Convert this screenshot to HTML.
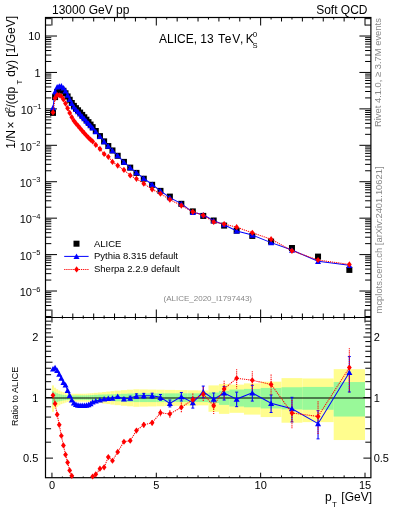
<!DOCTYPE html>
<html><head><meta charset="utf-8"><style>html,body{margin:0;padding:0;background:#fff;}svg{display:block;will-change:transform;}</style></head>
<body><svg width="393" height="512" viewBox="0 0 393 512">
<defs><clipPath id="cm"><rect x="45.5" y="17.5" width="325.4" height="300.0"/></clipPath><clipPath id="cr"><rect x="45.5" y="317.5" width="325.4" height="160.2"/></clipPath></defs>
<rect width="393" height="512" fill="#fff"/>
<g clip-path="url(#cr)">
<rect x="51.95" y="385.40" width="2.09" height="26.39" fill="#fffd8e"/>
<rect x="54.04" y="387.71" width="2.09" height="21.05" fill="#fffd8e"/>
<rect x="56.12" y="389.28" width="2.09" height="17.52" fill="#fffd8e"/>
<rect x="58.21" y="390.48" width="2.09" height="14.88" fill="#fffd8e"/>
<rect x="60.30" y="391.53" width="2.09" height="12.59" fill="#fffd8e"/>
<rect x="62.39" y="392.18" width="2.09" height="11.19" fill="#fffd8e"/>
<rect x="64.47" y="392.82" width="2.09" height="9.83" fill="#fffd8e"/>
<rect x="66.56" y="393.44" width="2.09" height="8.52" fill="#fffd8e"/>
<rect x="68.65" y="393.76" width="2.09" height="7.86" fill="#fffd8e"/>
<rect x="70.73" y="393.76" width="2.09" height="7.86" fill="#fffd8e"/>
<rect x="72.82" y="393.76" width="2.09" height="7.86" fill="#fffd8e"/>
<rect x="74.91" y="393.76" width="2.09" height="7.86" fill="#fffd8e"/>
<rect x="76.99" y="393.76" width="2.09" height="7.86" fill="#fffd8e"/>
<rect x="79.08" y="393.76" width="2.09" height="7.86" fill="#fffd8e"/>
<rect x="81.17" y="393.76" width="2.09" height="7.86" fill="#fffd8e"/>
<rect x="83.25" y="393.76" width="2.09" height="7.86" fill="#fffd8e"/>
<rect x="85.34" y="393.67" width="2.09" height="8.05" fill="#fffd8e"/>
<rect x="87.43" y="393.49" width="2.09" height="8.42" fill="#fffd8e"/>
<rect x="89.52" y="393.31" width="2.09" height="8.80" fill="#fffd8e"/>
<rect x="91.60" y="393.13" width="2.09" height="9.17" fill="#fffd8e"/>
<rect x="93.69" y="392.87" width="4.17" height="9.74" fill="#fffd8e"/>
<rect x="97.86" y="392.51" width="4.17" height="10.49" fill="#fffd8e"/>
<rect x="102.04" y="392.04" width="4.17" height="11.49" fill="#fffd8e"/>
<rect x="106.21" y="391.58" width="4.17" height="12.49" fill="#fffd8e"/>
<rect x="110.39" y="391.11" width="4.17" height="13.49" fill="#fffd8e"/>
<rect x="114.56" y="390.64" width="6.26" height="14.52" fill="#fffd8e"/>
<rect x="120.82" y="390.16" width="6.26" height="15.58" fill="#fffd8e"/>
<rect x="127.08" y="389.68" width="6.26" height="16.64" fill="#fffd8e"/>
<rect x="133.34" y="389.30" width="6.26" height="17.48" fill="#fffd8e"/>
<rect x="139.60" y="389.43" width="8.35" height="17.19" fill="#fffd8e"/>
<rect x="147.95" y="389.57" width="8.35" height="16.87" fill="#fffd8e"/>
<rect x="156.30" y="389.72" width="8.35" height="16.54" fill="#fffd8e"/>
<rect x="164.65" y="389.89" width="10.44" height="16.18" fill="#fffd8e"/>
<rect x="175.08" y="390.09" width="12.52" height="15.73" fill="#fffd8e"/>
<rect x="187.61" y="390.29" width="10.44" height="15.28" fill="#fffd8e"/>
<rect x="198.04" y="390.48" width="10.44" height="14.88" fill="#fffd8e"/>
<rect x="208.48" y="385.40" width="10.44" height="26.39" fill="#fffd8e"/>
<rect x="218.91" y="383.89" width="10.44" height="29.97" fill="#fffd8e"/>
<rect x="229.35" y="384.64" width="14.61" height="28.18" fill="#fffd8e"/>
<rect x="243.95" y="383.37" width="16.70" height="31.23" fill="#fffd8e"/>
<rect x="260.65" y="381.68" width="20.87" height="35.39" fill="#fffd8e"/>
<rect x="281.52" y="378.12" width="20.87" height="44.59" fill="#fffd8e"/>
<rect x="302.39" y="378.47" width="31.31" height="43.66" fill="#fffd8e"/>
<rect x="333.69" y="369.17" width="31.31" height="70.87" fill="#fffd8e"/>
<rect x="51.95" y="391.29" width="2.09" height="13.12" fill="#99f999"/>
<rect x="54.04" y="392.51" width="2.09" height="10.49" fill="#99f999"/>
<rect x="56.12" y="393.34" width="2.09" height="8.74" fill="#99f999"/>
<rect x="58.21" y="394.01" width="2.09" height="7.34" fill="#99f999"/>
<rect x="60.30" y="394.51" width="2.09" height="6.29" fill="#99f999"/>
<rect x="62.39" y="394.85" width="2.09" height="5.59" fill="#99f999"/>
<rect x="64.47" y="395.13" width="2.09" height="5.02" fill="#99f999"/>
<rect x="66.56" y="395.34" width="2.09" height="4.58" fill="#99f999"/>
<rect x="68.65" y="395.44" width="2.09" height="4.37" fill="#99f999"/>
<rect x="70.73" y="395.44" width="2.09" height="4.37" fill="#99f999"/>
<rect x="72.82" y="395.44" width="2.09" height="4.37" fill="#99f999"/>
<rect x="74.91" y="395.44" width="2.09" height="4.37" fill="#99f999"/>
<rect x="76.99" y="395.44" width="2.09" height="4.37" fill="#99f999"/>
<rect x="79.08" y="395.44" width="2.09" height="4.37" fill="#99f999"/>
<rect x="81.17" y="395.44" width="2.09" height="4.37" fill="#99f999"/>
<rect x="83.25" y="395.44" width="2.09" height="4.37" fill="#99f999"/>
<rect x="85.34" y="395.38" width="2.09" height="4.49" fill="#99f999"/>
<rect x="87.43" y="395.26" width="2.09" height="4.74" fill="#99f999"/>
<rect x="89.52" y="395.14" width="2.09" height="4.99" fill="#99f999"/>
<rect x="91.60" y="395.02" width="2.09" height="5.24" fill="#99f999"/>
<rect x="93.69" y="394.84" width="4.17" height="5.61" fill="#99f999"/>
<rect x="97.86" y="394.60" width="4.17" height="6.11" fill="#99f999"/>
<rect x="102.04" y="394.48" width="4.17" height="6.36" fill="#99f999"/>
<rect x="106.21" y="394.36" width="4.17" height="6.61" fill="#99f999"/>
<rect x="110.39" y="394.24" width="4.17" height="6.86" fill="#99f999"/>
<rect x="114.56" y="394.05" width="6.26" height="7.25" fill="#99f999"/>
<rect x="120.82" y="393.80" width="6.26" height="7.77" fill="#99f999"/>
<rect x="127.08" y="393.55" width="6.26" height="8.30" fill="#99f999"/>
<rect x="133.34" y="393.34" width="6.26" height="8.74" fill="#99f999"/>
<rect x="139.60" y="393.34" width="8.35" height="8.74" fill="#99f999"/>
<rect x="147.95" y="393.34" width="8.35" height="8.74" fill="#99f999"/>
<rect x="156.30" y="393.34" width="8.35" height="8.74" fill="#99f999"/>
<rect x="164.65" y="393.34" width="10.44" height="8.74" fill="#99f999"/>
<rect x="175.08" y="393.34" width="12.52" height="8.74" fill="#99f999"/>
<rect x="187.61" y="393.34" width="10.44" height="8.74" fill="#99f999"/>
<rect x="198.04" y="393.34" width="10.44" height="8.74" fill="#99f999"/>
<rect x="208.48" y="392.51" width="10.44" height="10.49" fill="#99f999"/>
<rect x="218.91" y="390.88" width="10.44" height="14.00" fill="#99f999"/>
<rect x="229.35" y="389.52" width="14.61" height="16.99" fill="#99f999"/>
<rect x="243.95" y="388.88" width="16.70" height="18.40" fill="#99f999"/>
<rect x="260.65" y="387.94" width="20.87" height="20.52" fill="#99f999"/>
<rect x="281.52" y="387.24" width="20.87" height="22.12" fill="#99f999"/>
<rect x="302.39" y="386.93" width="31.31" height="22.83" fill="#99f999"/>
<rect x="333.69" y="382.05" width="31.31" height="34.49" fill="#99f999"/>
</g>
<rect x="45.5" y="17.5" width="325.40" height="460.20" fill="none" stroke="#000" stroke-width="1.2"/>
<line x1="45.5" y1="317.5" x2="370.9" y2="317.5" stroke="#000" stroke-width="1.2"/>
<path fill="none" stroke="#000" stroke-width="1" d="M51.95,17.5v8M51.95,317.5v-8M51.95,317.5v5M51.95,477.7v-5M62.39,17.5v2M62.39,317.5v-2M62.39,317.5v1.2M62.39,477.7v-1.2M72.82,17.5v4M72.82,317.5v-4M72.82,317.5v2.3M72.82,477.7v-2.3M83.25,17.5v2M83.25,317.5v-2M83.25,317.5v1.2M83.25,477.7v-1.2M93.69,17.5v4M93.69,317.5v-4M93.69,317.5v2.3M93.69,477.7v-2.3M104.12,17.5v2M104.12,317.5v-2M104.12,317.5v1.2M104.12,477.7v-1.2M114.56,17.5v4M114.56,317.5v-4M114.56,317.5v2.3M114.56,477.7v-2.3M125.00,17.5v2M125.00,317.5v-2M125.00,317.5v1.2M125.00,477.7v-1.2M135.43,17.5v4M135.43,317.5v-4M135.43,317.5v2.3M135.43,477.7v-2.3M145.87,17.5v2M145.87,317.5v-2M145.87,317.5v1.2M145.87,477.7v-1.2M156.30,17.5v8M156.30,317.5v-8M156.30,317.5v5M156.30,477.7v-5M166.74,17.5v2M166.74,317.5v-2M166.74,317.5v1.2M166.74,477.7v-1.2M177.17,17.5v4M177.17,317.5v-4M177.17,317.5v2.3M177.17,477.7v-2.3M187.61,17.5v2M187.61,317.5v-2M187.61,317.5v1.2M187.61,477.7v-1.2M198.04,17.5v4M198.04,317.5v-4M198.04,317.5v2.3M198.04,477.7v-2.3M208.48,17.5v2M208.48,317.5v-2M208.48,317.5v1.2M208.48,477.7v-1.2M218.91,17.5v4M218.91,317.5v-4M218.91,317.5v2.3M218.91,477.7v-2.3M229.35,17.5v2M229.35,317.5v-2M229.35,317.5v1.2M229.35,477.7v-1.2M239.78,17.5v4M239.78,317.5v-4M239.78,317.5v2.3M239.78,477.7v-2.3M250.22,17.5v2M250.22,317.5v-2M250.22,317.5v1.2M250.22,477.7v-1.2M260.65,17.5v8M260.65,317.5v-8M260.65,317.5v5M260.65,477.7v-5M271.09,17.5v2M271.09,317.5v-2M271.09,317.5v1.2M271.09,477.7v-1.2M281.52,17.5v4M281.52,317.5v-4M281.52,317.5v2.3M281.52,477.7v-2.3M291.96,17.5v2M291.96,317.5v-2M291.96,317.5v1.2M291.96,477.7v-1.2M302.39,17.5v4M302.39,317.5v-4M302.39,317.5v2.3M302.39,477.7v-2.3M312.82,17.5v2M312.82,317.5v-2M312.82,317.5v1.2M312.82,477.7v-1.2M323.26,17.5v4M323.26,317.5v-4M323.26,317.5v2.3M323.26,477.7v-2.3M333.69,17.5v2M333.69,317.5v-2M333.69,317.5v1.2M333.69,477.7v-1.2M344.13,17.5v4M344.13,317.5v-4M344.13,317.5v2.3M344.13,477.7v-2.3M354.56,17.5v2M354.56,317.5v-2M354.56,317.5v1.2M354.56,477.7v-1.2M365.00,17.5v8M365.00,317.5v-8M365.00,317.5v5M365.00,477.7v-5M45.5,316.49h5.8M370.9,316.49h-5.8M45.5,310.08h5.8M370.9,310.08h-5.8M45.5,305.53h5.8M370.9,305.53h-5.8M45.5,302.00h5.8M370.9,302.00h-5.8M45.5,299.11h5.8M370.9,299.11h-5.8M45.5,296.67h5.8M370.9,296.67h-5.8M45.5,294.56h5.8M370.9,294.56h-5.8M45.5,292.70h5.8M370.9,292.70h-5.8M45.5,291.03h11.5M370.9,291.03h-11.5M45.5,280.06h5.8M370.9,280.06h-5.8M45.5,273.65h5.8M370.9,273.65h-5.8M45.5,269.10h5.8M370.9,269.10h-5.8M45.5,265.57h5.8M370.9,265.57h-5.8M45.5,262.68h5.8M370.9,262.68h-5.8M45.5,260.24h5.8M370.9,260.24h-5.8M45.5,258.13h5.8M370.9,258.13h-5.8M45.5,256.27h5.8M370.9,256.27h-5.8M45.5,254.60h11.5M370.9,254.60h-11.5M45.5,243.63h5.8M370.9,243.63h-5.8M45.5,237.22h5.8M370.9,237.22h-5.8M45.5,232.67h5.8M370.9,232.67h-5.8M45.5,229.14h5.8M370.9,229.14h-5.8M45.5,226.25h5.8M370.9,226.25h-5.8M45.5,223.81h5.8M370.9,223.81h-5.8M45.5,221.70h5.8M370.9,221.70h-5.8M45.5,219.84h5.8M370.9,219.84h-5.8M45.5,218.17h11.5M370.9,218.17h-11.5M45.5,207.20h5.8M370.9,207.20h-5.8M45.5,200.79h5.8M370.9,200.79h-5.8M45.5,196.24h5.8M370.9,196.24h-5.8M45.5,192.71h5.8M370.9,192.71h-5.8M45.5,189.82h5.8M370.9,189.82h-5.8M45.5,187.38h5.8M370.9,187.38h-5.8M45.5,185.27h5.8M370.9,185.27h-5.8M45.5,183.41h5.8M370.9,183.41h-5.8M45.5,181.74h11.5M370.9,181.74h-11.5M45.5,170.77h5.8M370.9,170.77h-5.8M45.5,164.36h5.8M370.9,164.36h-5.8M45.5,159.81h5.8M370.9,159.81h-5.8M45.5,156.28h5.8M370.9,156.28h-5.8M45.5,153.39h5.8M370.9,153.39h-5.8M45.5,150.95h5.8M370.9,150.95h-5.8M45.5,148.84h5.8M370.9,148.84h-5.8M45.5,146.98h5.8M370.9,146.98h-5.8M45.5,145.31h11.5M370.9,145.31h-11.5M45.5,134.34h5.8M370.9,134.34h-5.8M45.5,127.93h5.8M370.9,127.93h-5.8M45.5,123.38h5.8M370.9,123.38h-5.8M45.5,119.85h5.8M370.9,119.85h-5.8M45.5,116.96h5.8M370.9,116.96h-5.8M45.5,114.52h5.8M370.9,114.52h-5.8M45.5,112.41h5.8M370.9,112.41h-5.8M45.5,110.55h5.8M370.9,110.55h-5.8M45.5,108.88h11.5M370.9,108.88h-11.5M45.5,97.91h5.8M370.9,97.91h-5.8M45.5,91.50h5.8M370.9,91.50h-5.8M45.5,86.95h5.8M370.9,86.95h-5.8M45.5,83.42h5.8M370.9,83.42h-5.8M45.5,80.53h5.8M370.9,80.53h-5.8M45.5,78.09h5.8M370.9,78.09h-5.8M45.5,75.98h5.8M370.9,75.98h-5.8M45.5,74.12h5.8M370.9,74.12h-5.8M45.5,72.45h11.5M370.9,72.45h-11.5M45.5,61.48h5.8M370.9,61.48h-5.8M45.5,55.07h5.8M370.9,55.07h-5.8M45.5,50.52h5.8M370.9,50.52h-5.8M45.5,46.99h5.8M370.9,46.99h-5.8M45.5,44.10h5.8M370.9,44.10h-5.8M45.5,41.66h5.8M370.9,41.66h-5.8M45.5,39.55h5.8M370.9,39.55h-5.8M45.5,37.69h5.8M370.9,37.69h-5.8M45.5,36.02h11.5M370.9,36.02h-11.5M45.5,25.05h5.8M370.9,25.05h-5.8M45.5,18.64h5.8M370.9,18.64h-5.8M45.5,458.11h7.5M370.9,458.11h-7.5M45.5,442.19h5.6M370.9,442.19h-5.6M45.5,428.74h5.6M370.9,428.74h-5.6M45.5,417.08h5.6M370.9,417.08h-5.6M45.5,406.80h5.6M370.9,406.80h-5.6M45.5,397.60h7.5M370.9,397.60h-7.5M45.5,389.28h5.6M370.9,389.28h-5.6M45.5,381.68h5.6M370.9,381.68h-5.6M45.5,374.70h5.6M370.9,374.70h-5.6M45.5,368.23h5.6M370.9,368.23h-5.6M45.5,362.21h7.0M370.9,362.21h-7.0M45.5,356.57h5.6M370.9,356.57h-5.6M45.5,351.28h5.6M370.9,351.28h-5.6M45.5,346.29h5.6M370.9,346.29h-5.6M45.5,341.57h5.6M370.9,341.57h-5.6M45.5,337.09h7.5M370.9,337.09h-7.5M45.5,332.83h5.6M370.9,332.83h-5.6M45.5,328.77h5.6M370.9,328.77h-5.6M45.5,324.89h5.6M370.9,324.89h-5.6M45.5,321.18h5.6M370.9,321.18h-5.6"/>
<line x1="45.5" y1="398" x2="370.9" y2="398" stroke="#000" stroke-width="1.1"/>
<g clip-path="url(#cr)">
<polyline fill="none" stroke="#0000ff" stroke-width="1.05" points="52.99,368.98 55.08,367.55 57.17,370.44 59.25,374.03 61.34,378.12 63.43,382.42 65.52,385.02 67.60,390.48 69.69,395.44 71.78,399.81 73.86,403.00 75.95,404.41 78.04,405.16 80.12,405.35 82.21,405.35 84.30,405.35 86.39,405.16 88.47,404.69 90.56,403.75 92.65,401.99 95.78,400.98 99.95,399.99 104.12,399.01 108.30,398.48 112.47,398.04 117.69,396.47 123.95,399.01 130.21,398.04 136.47,396.04 143.78,395.70 152.13,395.70 160.47,397.34 169.87,403.37 181.34,396.65 192.82,402.72 203.26,391.78 213.69,399.10 224.13,393.01 236.65,399.10 252.30,392.84 271.09,403.28 291.96,408.76 318.04,423.65 349.35,372.51"/>
<polyline fill="none" stroke="#ff0000" stroke-width="1.05" stroke-dasharray="1.2,0.9" points="52.99,395.27 55.08,403.65 57.17,414.60 59.25,424.83 61.34,435.74 63.43,445.45 65.52,454.68 67.60,462.40 69.69,470.46 71.78,475.86 73.86,479.13 75.95,481.61 78.04,483.45 80.12,484.86 82.21,485.58 84.30,485.58 86.39,484.86 88.47,483.45 90.56,480.92 92.65,476.50 95.78,474.37 99.95,468.67 104.12,467.30 108.30,457.07 112.47,460.77 117.69,451.88 123.95,441.76 130.21,440.75 136.47,430.50 143.78,424.83 152.13,422.83 160.47,412.82 169.87,413.97 181.34,407.28 192.82,399.72 203.26,394.18 213.69,405.83 224.13,388.96 236.65,378.26 252.30,380.24 271.09,384.42 291.96,413.03 318.04,416.43 349.35,367.61"/>
<line x1="123.95" y1="397.46" x2="123.95" y2="400.58" stroke="#0000ff" stroke-width="1.1"/><line x1="122.45" y1="397.46" x2="125.45" y2="397.46" stroke="#0000ff" stroke-width="1"/><line x1="122.45" y1="400.58" x2="125.45" y2="400.58" stroke="#0000ff" stroke-width="1"/>
<line x1="130.21" y1="396.16" x2="130.21" y2="399.96" stroke="#0000ff" stroke-width="1.1"/><line x1="128.71" y1="396.16" x2="131.71" y2="396.16" stroke="#0000ff" stroke-width="1"/><line x1="128.71" y1="399.96" x2="131.71" y2="399.96" stroke="#0000ff" stroke-width="1"/>
<line x1="136.47" y1="393.87" x2="136.47" y2="398.28" stroke="#0000ff" stroke-width="1.1"/><line x1="134.97" y1="393.87" x2="137.97" y2="393.87" stroke="#0000ff" stroke-width="1"/><line x1="134.97" y1="398.28" x2="137.97" y2="398.28" stroke="#0000ff" stroke-width="1"/>
<line x1="143.78" y1="393.37" x2="143.78" y2="398.09" stroke="#0000ff" stroke-width="1.1"/><line x1="142.28" y1="393.37" x2="145.28" y2="393.37" stroke="#0000ff" stroke-width="1"/><line x1="142.28" y1="398.09" x2="145.28" y2="398.09" stroke="#0000ff" stroke-width="1"/>
<line x1="152.13" y1="393.20" x2="152.13" y2="398.27" stroke="#0000ff" stroke-width="1.1"/><line x1="150.63" y1="393.20" x2="153.63" y2="393.20" stroke="#0000ff" stroke-width="1"/><line x1="150.63" y1="398.27" x2="153.63" y2="398.27" stroke="#0000ff" stroke-width="1"/>
<line x1="160.47" y1="394.50" x2="160.47" y2="400.27" stroke="#0000ff" stroke-width="1.1"/><line x1="158.97" y1="394.50" x2="161.97" y2="394.50" stroke="#0000ff" stroke-width="1"/><line x1="158.97" y1="400.27" x2="161.97" y2="400.27" stroke="#0000ff" stroke-width="1"/>
<line x1="169.87" y1="399.97" x2="169.87" y2="406.91" stroke="#0000ff" stroke-width="1.1"/><line x1="168.37" y1="399.97" x2="171.37" y2="399.97" stroke="#0000ff" stroke-width="1"/><line x1="168.37" y1="406.91" x2="171.37" y2="406.91" stroke="#0000ff" stroke-width="1"/>
<line x1="181.34" y1="392.47" x2="181.34" y2="401.03" stroke="#0000ff" stroke-width="1.1"/><line x1="179.84" y1="392.47" x2="182.84" y2="392.47" stroke="#0000ff" stroke-width="1"/><line x1="179.84" y1="401.03" x2="182.84" y2="401.03" stroke="#0000ff" stroke-width="1"/>
<line x1="192.82" y1="397.64" x2="192.82" y2="408.12" stroke="#0000ff" stroke-width="1.1"/><line x1="191.32" y1="397.64" x2="194.32" y2="397.64" stroke="#0000ff" stroke-width="1"/><line x1="191.32" y1="408.12" x2="194.32" y2="408.12" stroke="#0000ff" stroke-width="1"/>
<line x1="203.26" y1="386.07" x2="203.26" y2="397.88" stroke="#0000ff" stroke-width="1.1"/><line x1="201.76" y1="386.07" x2="204.76" y2="386.07" stroke="#0000ff" stroke-width="1"/><line x1="201.76" y1="397.88" x2="204.76" y2="397.88" stroke="#0000ff" stroke-width="1"/>
<line x1="213.69" y1="392.99" x2="213.69" y2="405.67" stroke="#0000ff" stroke-width="1.1"/><line x1="212.19" y1="392.99" x2="215.19" y2="392.99" stroke="#0000ff" stroke-width="1"/><line x1="212.19" y1="405.67" x2="215.19" y2="405.67" stroke="#0000ff" stroke-width="1"/>
<line x1="224.13" y1="386.51" x2="224.13" y2="400.04" stroke="#0000ff" stroke-width="1.1"/><line x1="222.63" y1="386.51" x2="225.63" y2="386.51" stroke="#0000ff" stroke-width="1"/><line x1="222.63" y1="400.04" x2="225.63" y2="400.04" stroke="#0000ff" stroke-width="1"/>
<line x1="236.65" y1="392.14" x2="236.65" y2="406.66" stroke="#0000ff" stroke-width="1.1"/><line x1="235.15" y1="392.14" x2="238.15" y2="392.14" stroke="#0000ff" stroke-width="1"/><line x1="235.15" y1="406.66" x2="238.15" y2="406.66" stroke="#0000ff" stroke-width="1"/>
<line x1="252.30" y1="385.32" x2="252.30" y2="401.08" stroke="#0000ff" stroke-width="1.1"/><line x1="250.80" y1="385.32" x2="253.80" y2="385.32" stroke="#0000ff" stroke-width="1"/><line x1="250.80" y1="401.08" x2="253.80" y2="401.08" stroke="#0000ff" stroke-width="1"/>
<line x1="271.09" y1="394.96" x2="271.09" y2="412.48" stroke="#0000ff" stroke-width="1.1"/><line x1="269.59" y1="394.96" x2="272.59" y2="394.96" stroke="#0000ff" stroke-width="1"/><line x1="269.59" y1="412.48" x2="272.59" y2="412.48" stroke="#0000ff" stroke-width="1"/>
<line x1="291.96" y1="397.32" x2="291.96" y2="421.92" stroke="#0000ff" stroke-width="1.1"/><line x1="290.46" y1="397.32" x2="293.46" y2="397.32" stroke="#0000ff" stroke-width="1"/><line x1="290.46" y1="421.92" x2="293.46" y2="421.92" stroke="#0000ff" stroke-width="1"/>
<line x1="318.04" y1="410.69" x2="318.04" y2="438.87" stroke="#0000ff" stroke-width="1.1"/><line x1="316.54" y1="410.69" x2="319.54" y2="410.69" stroke="#0000ff" stroke-width="1"/><line x1="316.54" y1="438.87" x2="319.54" y2="438.87" stroke="#0000ff" stroke-width="1"/>
<line x1="349.35" y1="356.59" x2="349.35" y2="391.99" stroke="#0000ff" stroke-width="1.1"/><line x1="347.85" y1="356.59" x2="350.85" y2="356.59" stroke="#0000ff" stroke-width="1"/><line x1="347.85" y1="391.99" x2="350.85" y2="391.99" stroke="#0000ff" stroke-width="1"/>
<line x1="117.69" y1="450.38" x2="117.69" y2="453.39" stroke="#ff0000" stroke-width="1.1" stroke-dasharray="1.2,0.9"/>
<line x1="123.95" y1="439.88" x2="123.95" y2="443.68" stroke="#ff0000" stroke-width="1.1" stroke-dasharray="1.2,0.9"/>
<line x1="130.21" y1="438.49" x2="130.21" y2="443.07" stroke="#ff0000" stroke-width="1.1" stroke-dasharray="1.2,0.9"/>
<line x1="136.47" y1="427.90" x2="136.47" y2="433.18" stroke="#ff0000" stroke-width="1.1" stroke-dasharray="1.2,0.9"/>
<line x1="143.78" y1="422.08" x2="143.78" y2="427.67" stroke="#ff0000" stroke-width="1.1" stroke-dasharray="1.2,0.9"/>
<line x1="152.13" y1="419.91" x2="152.13" y2="425.85" stroke="#ff0000" stroke-width="1.1" stroke-dasharray="1.2,0.9"/>
<line x1="160.47" y1="409.56" x2="160.47" y2="416.20" stroke="#ff0000" stroke-width="1.1" stroke-dasharray="1.2,0.9"/>
<line x1="169.87" y1="410.15" x2="169.87" y2="417.97" stroke="#ff0000" stroke-width="1.1" stroke-dasharray="1.2,0.9"/>
<line x1="181.34" y1="402.53" x2="181.34" y2="412.31" stroke="#ff0000" stroke-width="1.1" stroke-dasharray="1.2,0.9"/>
<line x1="192.82" y1="393.61" x2="192.82" y2="406.29" stroke="#ff0000" stroke-width="1.1" stroke-dasharray="1.2,0.9"/>
<line x1="203.26" y1="387.19" x2="203.26" y2="401.77" stroke="#ff0000" stroke-width="1.1" stroke-dasharray="1.2,0.9"/>
<line x1="213.69" y1="398.31" x2="213.69" y2="414.07" stroke="#ff0000" stroke-width="1.1" stroke-dasharray="1.2,0.9"/>
<line x1="224.13" y1="380.64" x2="224.13" y2="398.16" stroke="#ff0000" stroke-width="1.1" stroke-dasharray="1.2,0.9"/>
<line x1="236.65" y1="369.15" x2="236.65" y2="388.43" stroke="#ff0000" stroke-width="1.1" stroke-dasharray="1.2,0.9"/>
<line x1="252.30" y1="371.13" x2="252.30" y2="390.41" stroke="#ff0000" stroke-width="1.1" stroke-dasharray="1.2,0.9"/>
<line x1="271.09" y1="374.53" x2="271.09" y2="395.58" stroke="#ff0000" stroke-width="1.1" stroke-dasharray="1.2,0.9"/>
<line x1="291.96" y1="400.07" x2="291.96" y2="428.25" stroke="#ff0000" stroke-width="1.1" stroke-dasharray="1.2,0.9"/>
<line x1="318.04" y1="401.24" x2="318.04" y2="434.82" stroke="#ff0000" stroke-width="1.1" stroke-dasharray="1.2,0.9"/>
<line x1="349.35" y1="348.13" x2="349.35" y2="392.72" stroke="#ff0000" stroke-width="1.1" stroke-dasharray="1.2,0.9"/>
</g>
<path d="M49.99,371.58L55.99,371.58L52.99,366.08Z" fill="#0000ff"/>
<path d="M52.08,370.15L58.08,370.15L55.08,364.65Z" fill="#0000ff"/>
<path d="M54.17,373.04L60.17,373.04L57.17,367.54Z" fill="#0000ff"/>
<path d="M56.25,376.63L62.25,376.63L59.25,371.13Z" fill="#0000ff"/>
<path d="M58.34,380.72L64.34,380.72L61.34,375.22Z" fill="#0000ff"/>
<path d="M60.43,385.02L66.43,385.02L63.43,379.52Z" fill="#0000ff"/>
<path d="M62.52,387.62L68.52,387.62L65.52,382.12Z" fill="#0000ff"/>
<path d="M64.60,393.08L70.60,393.08L67.60,387.58Z" fill="#0000ff"/>
<path d="M66.69,398.04L72.69,398.04L69.69,392.54Z" fill="#0000ff"/>
<path d="M68.78,402.41L74.78,402.41L71.78,396.91Z" fill="#0000ff"/>
<path d="M70.86,405.60L76.86,405.60L73.86,400.10Z" fill="#0000ff"/>
<path d="M72.95,407.01L78.95,407.01L75.95,401.51Z" fill="#0000ff"/>
<path d="M75.04,407.76L81.04,407.76L78.04,402.26Z" fill="#0000ff"/>
<path d="M77.12,407.95L83.12,407.95L80.12,402.45Z" fill="#0000ff"/>
<path d="M79.21,407.95L85.21,407.95L82.21,402.45Z" fill="#0000ff"/>
<path d="M81.30,407.95L87.30,407.95L84.30,402.45Z" fill="#0000ff"/>
<path d="M83.39,407.76L89.39,407.76L86.39,402.26Z" fill="#0000ff"/>
<path d="M85.47,407.29L91.47,407.29L88.47,401.79Z" fill="#0000ff"/>
<path d="M87.56,406.35L93.56,406.35L90.56,400.85Z" fill="#0000ff"/>
<path d="M89.65,404.59L95.65,404.59L92.65,399.09Z" fill="#0000ff"/>
<path d="M92.78,403.58L98.78,403.58L95.78,398.08Z" fill="#0000ff"/>
<path d="M96.95,402.59L102.95,402.59L99.95,397.09Z" fill="#0000ff"/>
<path d="M101.12,401.61L107.12,401.61L104.12,396.11Z" fill="#0000ff"/>
<path d="M105.30,401.08L111.30,401.08L108.30,395.58Z" fill="#0000ff"/>
<path d="M109.47,400.64L115.47,400.64L112.47,395.14Z" fill="#0000ff"/>
<path d="M114.69,399.07L120.69,399.07L117.69,393.57Z" fill="#0000ff"/>
<path d="M120.95,401.61L126.95,401.61L123.95,396.11Z" fill="#0000ff"/>
<path d="M127.21,400.64L133.21,400.64L130.21,395.14Z" fill="#0000ff"/>
<path d="M133.47,398.64L139.47,398.64L136.47,393.14Z" fill="#0000ff"/>
<path d="M140.78,398.30L146.78,398.30L143.78,392.80Z" fill="#0000ff"/>
<path d="M149.13,398.30L155.13,398.30L152.13,392.80Z" fill="#0000ff"/>
<path d="M157.47,399.94L163.47,399.94L160.47,394.44Z" fill="#0000ff"/>
<path d="M166.87,405.97L172.87,405.97L169.87,400.47Z" fill="#0000ff"/>
<path d="M178.34,399.25L184.34,399.25L181.34,393.75Z" fill="#0000ff"/>
<path d="M189.82,405.32L195.82,405.32L192.82,399.82Z" fill="#0000ff"/>
<path d="M200.26,394.38L206.26,394.38L203.26,388.88Z" fill="#0000ff"/>
<path d="M210.69,401.70L216.69,401.70L213.69,396.20Z" fill="#0000ff"/>
<path d="M221.13,395.61L227.13,395.61L224.13,390.11Z" fill="#0000ff"/>
<path d="M233.65,401.70L239.65,401.70L236.65,396.20Z" fill="#0000ff"/>
<path d="M249.30,395.44L255.30,395.44L252.30,389.94Z" fill="#0000ff"/>
<path d="M268.09,405.88L274.09,405.88L271.09,400.38Z" fill="#0000ff"/>
<path d="M288.96,411.36L294.96,411.36L291.96,405.86Z" fill="#0000ff"/>
<path d="M315.04,426.25L321.04,426.25L318.04,420.75Z" fill="#0000ff"/>
<path d="M346.35,375.11L352.35,375.11L349.35,369.61Z" fill="#0000ff"/>
<path d="M52.99,392.17L55.39,395.27L52.99,398.37L50.59,395.27Z" fill="#ff0000"/>
<path d="M55.08,400.55L57.48,403.65L55.08,406.75L52.68,403.65Z" fill="#ff0000"/>
<path d="M57.17,411.50L59.57,414.60L57.17,417.70L54.77,414.60Z" fill="#ff0000"/>
<path d="M59.25,421.73L61.65,424.83L59.25,427.93L56.85,424.83Z" fill="#ff0000"/>
<path d="M61.34,432.64L63.74,435.74L61.34,438.84L58.94,435.74Z" fill="#ff0000"/>
<path d="M63.43,442.35L65.83,445.45L63.43,448.55L61.03,445.45Z" fill="#ff0000"/>
<path d="M65.52,451.58L67.92,454.68L65.52,457.78L63.12,454.68Z" fill="#ff0000"/>
<path d="M67.60,459.30L70.00,462.40L67.60,465.50L65.20,462.40Z" fill="#ff0000"/>
<path d="M69.69,467.36L72.09,470.46L69.69,473.56L67.29,470.46Z" fill="#ff0000"/>
<path d="M71.78,472.76L74.18,475.86L71.78,478.96L69.38,475.86Z" fill="#ff0000"/>
<path d="M92.65,473.40L95.05,476.50L92.65,479.60L90.25,476.50Z" fill="#ff0000"/>
<path d="M95.78,471.27L98.18,474.37L95.78,477.47L93.38,474.37Z" fill="#ff0000"/>
<path d="M99.95,465.57L102.35,468.67L99.95,471.77L97.55,468.67Z" fill="#ff0000"/>
<path d="M104.12,464.20L106.53,467.30L104.12,470.40L101.72,467.30Z" fill="#ff0000"/>
<path d="M108.30,453.97L110.70,457.07L108.30,460.17L105.90,457.07Z" fill="#ff0000"/>
<path d="M112.47,457.67L114.87,460.77L112.47,463.87L110.07,460.77Z" fill="#ff0000"/>
<path d="M117.69,448.78L120.09,451.88L117.69,454.98L115.29,451.88Z" fill="#ff0000"/>
<path d="M123.95,438.66L126.35,441.76L123.95,444.86L121.55,441.76Z" fill="#ff0000"/>
<path d="M130.21,437.65L132.61,440.75L130.21,443.85L127.81,440.75Z" fill="#ff0000"/>
<path d="M136.47,427.40L138.87,430.50L136.47,433.60L134.07,430.50Z" fill="#ff0000"/>
<path d="M143.78,421.73L146.18,424.83L143.78,427.93L141.38,424.83Z" fill="#ff0000"/>
<path d="M152.13,419.73L154.53,422.83L152.13,425.93L149.73,422.83Z" fill="#ff0000"/>
<path d="M160.47,409.72L162.87,412.82L160.47,415.92L158.07,412.82Z" fill="#ff0000"/>
<path d="M169.87,410.87L172.27,413.97L169.87,417.07L167.47,413.97Z" fill="#ff0000"/>
<path d="M181.34,404.18L183.74,407.28L181.34,410.38L178.94,407.28Z" fill="#ff0000"/>
<path d="M192.82,396.62L195.22,399.72L192.82,402.82L190.42,399.72Z" fill="#ff0000"/>
<path d="M203.26,391.08L205.66,394.18L203.26,397.28L200.86,394.18Z" fill="#ff0000"/>
<path d="M213.69,402.73L216.09,405.83L213.69,408.93L211.29,405.83Z" fill="#ff0000"/>
<path d="M224.13,385.86L226.53,388.96L224.13,392.06L221.73,388.96Z" fill="#ff0000"/>
<path d="M236.65,375.16L239.05,378.26L236.65,381.36L234.25,378.26Z" fill="#ff0000"/>
<path d="M252.30,377.14L254.70,380.24L252.30,383.34L249.90,380.24Z" fill="#ff0000"/>
<path d="M271.09,381.32L273.49,384.42L271.09,387.52L268.69,384.42Z" fill="#ff0000"/>
<path d="M291.96,409.93L294.36,413.03L291.96,416.13L289.56,413.03Z" fill="#ff0000"/>
<path d="M318.04,413.33L320.44,416.43L318.04,419.53L315.64,416.43Z" fill="#ff0000"/>
<path d="M349.35,364.51L351.75,367.61L349.35,370.71L346.95,367.61Z" fill="#ff0000"/>
<g clip-path="url(#cm)">
<rect x="49.99" y="109.89" width="6" height="6" fill="#000"/>
<rect x="52.08" y="94.11" width="6" height="6" fill="#000"/>
<rect x="54.17" y="88.94" width="6" height="6" fill="#000"/>
<rect x="56.25" y="87.30" width="6" height="6" fill="#000"/>
<rect x="58.34" y="86.33" width="6" height="6" fill="#000"/>
<rect x="60.43" y="87.76" width="6" height="6" fill="#000"/>
<rect x="62.52" y="90.27" width="6" height="6" fill="#000"/>
<rect x="64.60" y="93.39" width="6" height="6" fill="#000"/>
<rect x="66.69" y="96.74" width="6" height="6" fill="#000"/>
<rect x="68.78" y="100.00" width="6" height="6" fill="#000"/>
<rect x="70.86" y="102.87" width="6" height="6" fill="#000"/>
<rect x="72.95" y="105.17" width="6" height="6" fill="#000"/>
<rect x="75.04" y="107.27" width="6" height="6" fill="#000"/>
<rect x="77.12" y="109.55" width="6" height="6" fill="#000"/>
<rect x="79.21" y="111.89" width="6" height="6" fill="#000"/>
<rect x="81.30" y="114.26" width="6" height="6" fill="#000"/>
<rect x="83.39" y="116.70" width="6" height="6" fill="#000"/>
<rect x="85.47" y="119.12" width="6" height="6" fill="#000"/>
<rect x="87.56" y="121.58" width="6" height="6" fill="#000"/>
<rect x="89.65" y="124.15" width="6" height="6" fill="#000"/>
<rect x="92.78" y="128.00" width="6" height="6" fill="#000"/>
<rect x="96.95" y="133.09" width="6" height="6" fill="#000"/>
<rect x="101.12" y="138.36" width="6" height="6" fill="#000"/>
<rect x="105.30" y="143.04" width="6" height="6" fill="#000"/>
<rect x="109.47" y="147.45" width="6" height="6" fill="#000"/>
<rect x="114.69" y="152.78" width="6" height="6" fill="#000"/>
<rect x="120.95" y="158.89" width="6" height="6" fill="#000"/>
<rect x="127.21" y="164.61" width="6" height="6" fill="#000"/>
<rect x="133.47" y="169.89" width="6" height="6" fill="#000"/>
<rect x="140.78" y="175.72" width="6" height="6" fill="#000"/>
<rect x="149.13" y="181.80" width="6" height="6" fill="#000"/>
<rect x="157.47" y="187.88" width="6" height="6" fill="#000"/>
<rect x="166.87" y="193.60" width="6" height="6" fill="#000"/>
<rect x="178.34" y="200.82" width="6" height="6" fill="#000"/>
<rect x="189.82" y="208.39" width="6" height="6" fill="#000"/>
<rect x="200.26" y="212.91" width="6" height="6" fill="#000"/>
<rect x="210.69" y="217.50" width="6" height="6" fill="#000"/>
<rect x="221.13" y="222.60" width="6" height="6" fill="#000"/>
<rect x="233.65" y="227.70" width="6" height="6" fill="#000"/>
<rect x="249.30" y="232.91" width="6" height="6" fill="#000"/>
<rect x="268.09" y="238.59" width="6" height="6" fill="#000"/>
<rect x="288.96" y="245.01" width="6" height="6" fill="#000"/>
<rect x="315.04" y="253.60" width="6" height="6" fill="#000"/>
<rect x="346.35" y="266.90" width="6" height="6" fill="#000"/>
<polyline fill="none" stroke="#0000ff" stroke-width="1.05" points="52.99,107.70 55.08,91.67 57.17,87.02 59.25,86.03 61.34,85.80 63.43,88.00 65.52,90.99 67.60,95.10 69.69,99.35 71.78,103.40 73.86,106.85 75.95,109.40 78.04,111.64 80.12,113.96 82.21,116.30 84.30,118.66 86.39,121.07 88.47,123.41 90.56,125.70 92.65,127.94 95.78,131.61 99.95,136.52 104.12,141.62 108.30,146.20 112.47,150.53 117.69,155.57 123.95,162.14 130.21,167.68 136.47,172.61 143.78,178.37 152.13,184.46 160.47,190.84 169.87,197.65 181.34,203.64 192.82,212.32 203.26,214.86 213.69,220.77 224.13,224.77 236.65,230.97 252.30,235.05 271.09,242.62 291.96,250.03 318.04,261.32 349.35,265.35"/>
<path d="M49.99,110.30L55.99,110.30L52.99,104.80Z" fill="#0000ff"/>
<path d="M52.08,94.27L58.08,94.27L55.08,88.77Z" fill="#0000ff"/>
<path d="M54.17,89.62L60.17,89.62L57.17,84.12Z" fill="#0000ff"/>
<path d="M56.25,88.63L62.25,88.63L59.25,83.13Z" fill="#0000ff"/>
<path d="M58.34,88.40L64.34,88.40L61.34,82.90Z" fill="#0000ff"/>
<path d="M60.43,90.60L66.43,90.60L63.43,85.10Z" fill="#0000ff"/>
<path d="M62.52,93.59L68.52,93.59L65.52,88.09Z" fill="#0000ff"/>
<path d="M64.60,97.70L70.60,97.70L67.60,92.20Z" fill="#0000ff"/>
<path d="M66.69,101.95L72.69,101.95L69.69,96.45Z" fill="#0000ff"/>
<path d="M68.78,106.00L74.78,106.00L71.78,100.50Z" fill="#0000ff"/>
<path d="M70.86,109.45L76.86,109.45L73.86,103.95Z" fill="#0000ff"/>
<path d="M72.95,112.00L78.95,112.00L75.95,106.50Z" fill="#0000ff"/>
<path d="M75.04,114.24L81.04,114.24L78.04,108.74Z" fill="#0000ff"/>
<path d="M77.12,116.56L83.12,116.56L80.12,111.06Z" fill="#0000ff"/>
<path d="M79.21,118.90L85.21,118.90L82.21,113.40Z" fill="#0000ff"/>
<path d="M81.30,121.26L87.30,121.26L84.30,115.76Z" fill="#0000ff"/>
<path d="M83.39,123.67L89.39,123.67L86.39,118.17Z" fill="#0000ff"/>
<path d="M85.47,126.01L91.47,126.01L88.47,120.51Z" fill="#0000ff"/>
<path d="M87.56,128.30L93.56,128.30L90.56,122.80Z" fill="#0000ff"/>
<path d="M89.65,130.54L95.65,130.54L92.65,125.04Z" fill="#0000ff"/>
<path d="M92.78,134.21L98.78,134.21L95.78,128.71Z" fill="#0000ff"/>
<path d="M96.95,139.12L102.95,139.12L99.95,133.62Z" fill="#0000ff"/>
<path d="M101.12,144.22L107.12,144.22L104.12,138.72Z" fill="#0000ff"/>
<path d="M105.30,148.80L111.30,148.80L108.30,143.30Z" fill="#0000ff"/>
<path d="M109.47,153.13L115.47,153.13L112.47,147.63Z" fill="#0000ff"/>
<path d="M114.69,158.17L120.69,158.17L117.69,152.67Z" fill="#0000ff"/>
<path d="M120.95,164.74L126.95,164.74L123.95,159.24Z" fill="#0000ff"/>
<path d="M127.21,170.28L133.21,170.28L130.21,164.78Z" fill="#0000ff"/>
<path d="M133.47,175.21L139.47,175.21L136.47,169.71Z" fill="#0000ff"/>
<path d="M140.78,180.97L146.78,180.97L143.78,175.47Z" fill="#0000ff"/>
<path d="M149.13,187.06L155.13,187.06L152.13,181.56Z" fill="#0000ff"/>
<path d="M157.47,193.44L163.47,193.44L160.47,187.94Z" fill="#0000ff"/>
<path d="M166.87,200.25L172.87,200.25L169.87,194.75Z" fill="#0000ff"/>
<path d="M178.34,206.24L184.34,206.24L181.34,200.74Z" fill="#0000ff"/>
<path d="M189.82,214.92L195.82,214.92L192.82,209.42Z" fill="#0000ff"/>
<path d="M200.26,217.46L206.26,217.46L203.26,211.96Z" fill="#0000ff"/>
<path d="M210.69,223.37L216.69,223.37L213.69,217.87Z" fill="#0000ff"/>
<path d="M221.13,227.37L227.13,227.37L224.13,221.87Z" fill="#0000ff"/>
<path d="M233.65,233.57L239.65,233.57L236.65,228.07Z" fill="#0000ff"/>
<path d="M249.30,237.65L255.30,237.65L252.30,232.15Z" fill="#0000ff"/>
<path d="M268.09,245.22L274.09,245.22L271.09,239.72Z" fill="#0000ff"/>
<path d="M288.96,252.63L294.96,252.63L291.96,247.13Z" fill="#0000ff"/>
<path d="M315.04,263.92L321.04,263.92L318.04,258.42Z" fill="#0000ff"/>
<path d="M346.35,267.95L352.35,267.95L349.35,262.45Z" fill="#0000ff"/>
<polyline fill="none" stroke="#ff0000" stroke-width="1.05" stroke-dasharray="1.2,0.9" points="52.99,112.47 55.08,98.21 57.17,95.02 59.25,95.24 61.34,96.25 63.43,99.43 65.52,103.62 67.60,108.14 69.69,112.94 71.78,117.18 73.86,120.64 75.95,123.39 78.04,125.83 80.12,128.37 82.21,130.84 84.30,133.20 86.39,135.51 88.47,137.69 90.56,139.68 92.65,141.45 95.78,144.91 99.95,148.97 104.12,154.00 108.30,156.81 112.47,161.89 117.69,165.61 123.95,169.89 130.21,175.43 136.47,178.85 143.78,183.65 152.13,189.37 160.47,193.64 169.87,199.57 181.34,205.57 192.82,211.78 203.26,215.29 213.69,221.99 224.13,224.04 236.65,227.20 252.30,232.77 271.09,239.21 291.96,250.80 318.04,260.02 349.35,264.46"/>
<path d="M52.99,109.37L55.39,112.47L52.99,115.57L50.59,112.47Z" fill="#ff0000"/>
<path d="M55.08,95.11L57.48,98.21L55.08,101.31L52.68,98.21Z" fill="#ff0000"/>
<path d="M57.17,91.92L59.57,95.02L57.17,98.12L54.77,95.02Z" fill="#ff0000"/>
<path d="M59.25,92.14L61.65,95.24L59.25,98.34L56.85,95.24Z" fill="#ff0000"/>
<path d="M61.34,93.15L63.74,96.25L61.34,99.35L58.94,96.25Z" fill="#ff0000"/>
<path d="M63.43,96.33L65.83,99.43L63.43,102.53L61.03,99.43Z" fill="#ff0000"/>
<path d="M65.52,100.52L67.92,103.62L65.52,106.72L63.12,103.62Z" fill="#ff0000"/>
<path d="M67.60,105.04L70.00,108.14L67.60,111.24L65.20,108.14Z" fill="#ff0000"/>
<path d="M69.69,109.84L72.09,112.94L69.69,116.04L67.29,112.94Z" fill="#ff0000"/>
<path d="M71.78,114.08L74.18,117.18L71.78,120.28L69.38,117.18Z" fill="#ff0000"/>
<path d="M73.86,117.54L76.26,120.64L73.86,123.74L71.46,120.64Z" fill="#ff0000"/>
<path d="M75.95,120.29L78.35,123.39L75.95,126.49L73.55,123.39Z" fill="#ff0000"/>
<path d="M78.04,122.73L80.44,125.83L78.04,128.93L75.64,125.83Z" fill="#ff0000"/>
<path d="M80.12,125.27L82.52,128.37L80.12,131.47L77.72,128.37Z" fill="#ff0000"/>
<path d="M82.21,127.74L84.61,130.84L82.21,133.94L79.81,130.84Z" fill="#ff0000"/>
<path d="M84.30,130.10L86.70,133.20L84.30,136.30L81.90,133.20Z" fill="#ff0000"/>
<path d="M86.39,132.41L88.79,135.51L86.39,138.61L83.99,135.51Z" fill="#ff0000"/>
<path d="M88.47,134.59L90.87,137.69L88.47,140.79L86.07,137.69Z" fill="#ff0000"/>
<path d="M90.56,136.58L92.96,139.68L90.56,142.78L88.16,139.68Z" fill="#ff0000"/>
<path d="M92.65,138.35L95.05,141.45L92.65,144.55L90.25,141.45Z" fill="#ff0000"/>
<path d="M95.78,141.81L98.18,144.91L95.78,148.01L93.38,144.91Z" fill="#ff0000"/>
<path d="M99.95,145.87L102.35,148.97L99.95,152.07L97.55,148.97Z" fill="#ff0000"/>
<path d="M104.12,150.90L106.53,154.00L104.12,157.10L101.72,154.00Z" fill="#ff0000"/>
<path d="M108.30,153.71L110.70,156.81L108.30,159.91L105.90,156.81Z" fill="#ff0000"/>
<path d="M112.47,158.79L114.87,161.89L112.47,164.99L110.07,161.89Z" fill="#ff0000"/>
<path d="M117.69,162.51L120.09,165.61L117.69,168.71L115.29,165.61Z" fill="#ff0000"/>
<path d="M123.95,166.79L126.35,169.89L123.95,172.99L121.55,169.89Z" fill="#ff0000"/>
<path d="M130.21,172.33L132.61,175.43L130.21,178.53L127.81,175.43Z" fill="#ff0000"/>
<path d="M136.47,175.75L138.87,178.85L136.47,181.95L134.07,178.85Z" fill="#ff0000"/>
<path d="M143.78,180.55L146.18,183.65L143.78,186.75L141.38,183.65Z" fill="#ff0000"/>
<path d="M152.13,186.27L154.53,189.37L152.13,192.47L149.73,189.37Z" fill="#ff0000"/>
<path d="M160.47,190.54L162.87,193.64L160.47,196.74L158.07,193.64Z" fill="#ff0000"/>
<path d="M169.87,196.47L172.27,199.57L169.87,202.67L167.47,199.57Z" fill="#ff0000"/>
<path d="M181.34,202.47L183.74,205.57L181.34,208.67L178.94,205.57Z" fill="#ff0000"/>
<path d="M192.82,208.68L195.22,211.78L192.82,214.88L190.42,211.78Z" fill="#ff0000"/>
<path d="M203.26,212.19L205.66,215.29L203.26,218.39L200.86,215.29Z" fill="#ff0000"/>
<path d="M213.69,218.89L216.09,221.99L213.69,225.09L211.29,221.99Z" fill="#ff0000"/>
<path d="M224.13,220.94L226.53,224.04L224.13,227.14L221.73,224.04Z" fill="#ff0000"/>
<path d="M236.65,224.10L239.05,227.20L236.65,230.30L234.25,227.20Z" fill="#ff0000"/>
<path d="M252.30,229.67L254.70,232.77L252.30,235.87L249.90,232.77Z" fill="#ff0000"/>
<path d="M271.09,236.11L273.49,239.21L271.09,242.31L268.69,239.21Z" fill="#ff0000"/>
<path d="M291.96,247.70L294.36,250.80L291.96,253.90L289.56,250.80Z" fill="#ff0000"/>
<path d="M318.04,256.92L320.44,260.02L318.04,263.12L315.64,260.02Z" fill="#ff0000"/>
<path d="M349.35,261.36L351.75,264.46L349.35,267.56L346.95,264.46Z" fill="#ff0000"/>
</g>

<rect x="73.5" y="240.7" width="6" height="6" fill="#000"/>
<line x1="64.2" y1="256.4" x2="88.6" y2="256.4" stroke="#0000ff" stroke-width="1"/>
<path d="M73.50,259.00L79.50,259.00L76.50,253.50Z" fill="#0000ff"/>
<line x1="64.2" y1="269.4" x2="88.6" y2="269.4" stroke="#ff0000" stroke-width="1.05" stroke-dasharray="1.2,0.9"/>
<path d="M76.60,266.30L79.00,269.40L76.60,272.50L74.20,269.40Z" fill="#ff0000"/>


<text x="52" y="13.7" font-size="12" font-family="Liberation Sans, sans-serif">13000 GeV pp</text>
<text x="367.5" y="13.8" font-size="12" text-anchor="end" font-family="Liberation Sans, sans-serif">Soft QCD</text>
<text x="159" y="43.3" font-size="12" font-family="Liberation Sans, sans-serif">ALICE, 13</text>
<text x="218.0" y="43.3" font-size="12" letter-spacing="0.8" font-family="Liberation Sans, sans-serif">TeV,</text>
<text x="245.7" y="43.3" font-size="12" font-family="Liberation Sans, sans-serif">K</text>
<text x="252.8" y="36.7" font-size="8" font-family="Liberation Sans, sans-serif">0</text>
<text x="252.6" y="48.3" font-size="7.6" font-family="Liberation Sans, sans-serif">S</text>
<text x="94" y="246.7" font-size="9.5" font-family="Liberation Sans, sans-serif">ALICE</text>
<text x="94" y="259.2" font-size="9.5" font-family="Liberation Sans, sans-serif">Pythia 8.315 default</text>
<text x="94" y="272.1" font-size="9.5" font-family="Liberation Sans, sans-serif">Sherpa 2.2.9 default</text>
<text x="163.5" y="301" font-size="8" fill="#888" font-family="Liberation Sans, sans-serif">(ALICE_2020_I1797443)</text>
<text transform="translate(381.3,127) rotate(-90)" font-size="9.4" fill="#888" font-family="Liberation Sans, sans-serif">Rivet 4.1.0, ≥ 3.7M events</text>
<text transform="translate(381.6,313.4) rotate(-90)" font-size="9.4" fill="#888" font-family="Liberation Sans, sans-serif">mcplots.cern.ch [arXiv:2401.10621]</text>
<text transform="translate(15.0,148.7) rotate(-90)" font-size="12" font-family="Liberation Sans, sans-serif">1/N</text>
<text transform="translate(15.0,128.4) rotate(-90)" font-size="12" font-family="Liberation Sans, sans-serif">×</text>
<text transform="translate(15.0,117.3) rotate(-90)" font-size="12" font-family="Liberation Sans, sans-serif">d</text>
<text transform="translate(9.6,111.6) rotate(-90)" font-size="8" font-family="Liberation Sans, sans-serif">2</text>
<text transform="translate(15.0,107.5) rotate(-90)" font-size="12" font-family="Liberation Sans, sans-serif">/(dp</text>
<text transform="translate(21.6,84.6) rotate(-90)" font-size="7.8" font-family="Liberation Sans, sans-serif">T</text>
<text transform="translate(15.0,76.7) rotate(-90)" font-size="12" font-family="Liberation Sans, sans-serif">dy) [1/GeV]</text>
<text transform="translate(18.2,425.9) rotate(-90)" font-size="9" font-family="Liberation Sans, sans-serif">Ratio to ALICE</text>
<text x="40.5" y="40" font-size="11" text-anchor="end" font-family="Liberation Sans, sans-serif">10</text>
<text x="40.5" y="76.6" font-size="11" text-anchor="end" font-family="Liberation Sans, sans-serif">1</text>
<text x="41.5" y="114.08" font-size="11" text-anchor="end" font-family="Liberation Sans, sans-serif">10<tspan font-size="7.5" dy="-4.6">−1</tspan></text>
<text x="40.5" y="150.51" font-size="11" text-anchor="end" font-family="Liberation Sans, sans-serif">10<tspan font-size="7.5" dy="-4.6">−2</tspan></text>
<text x="40.5" y="186.94" font-size="11" text-anchor="end" font-family="Liberation Sans, sans-serif">10<tspan font-size="7.5" dy="-4.6">−3</tspan></text>
<text x="40.5" y="223.37" font-size="11" text-anchor="end" font-family="Liberation Sans, sans-serif">10<tspan font-size="7.5" dy="-4.6">−4</tspan></text>
<text x="40.5" y="259.80" font-size="11" text-anchor="end" font-family="Liberation Sans, sans-serif">10<tspan font-size="7.5" dy="-4.6">−5</tspan></text>
<text x="40.5" y="296.23" font-size="11" text-anchor="end" font-family="Liberation Sans, sans-serif">10<tspan font-size="7.5" dy="-4.6">−6</tspan></text>

<text x="38.3" y="341.2" font-size="11" text-anchor="end" font-family="Liberation Sans, sans-serif">2</text>
<text x="38.3" y="401.5" font-size="11" text-anchor="end" font-family="Liberation Sans, sans-serif">1</text>
<text x="38.3" y="462" font-size="11" text-anchor="end" font-family="Liberation Sans, sans-serif">0.5</text>
<text x="51.95" y="489" font-size="11" text-anchor="middle" font-family="Liberation Sans, sans-serif">0</text>
<text x="156.30" y="489" font-size="11" text-anchor="middle" font-family="Liberation Sans, sans-serif">5</text>
<text x="260.65" y="489" font-size="11" text-anchor="middle" font-family="Liberation Sans, sans-serif">10</text>
<text x="365.00" y="489" font-size="11" text-anchor="middle" font-family="Liberation Sans, sans-serif">15</text>
<text x="325" y="500.8" font-size="12" font-family="Liberation Sans, sans-serif">p</text>
<text x="332" y="507.3" font-size="8" font-family="Liberation Sans, sans-serif">T</text>
<text x="341.3" y="500.8" font-size="12" font-family="Liberation Sans, sans-serif">[GeV]</text>
<text x="373.7" y="341.2" font-size="11" font-family="Liberation Sans, sans-serif">2</text>
<text x="373.7" y="401.5" font-size="11" font-family="Liberation Sans, sans-serif">1</text>
<text x="373.7" y="462" font-size="11" font-family="Liberation Sans, sans-serif">0.5</text>

</svg></body></html>
